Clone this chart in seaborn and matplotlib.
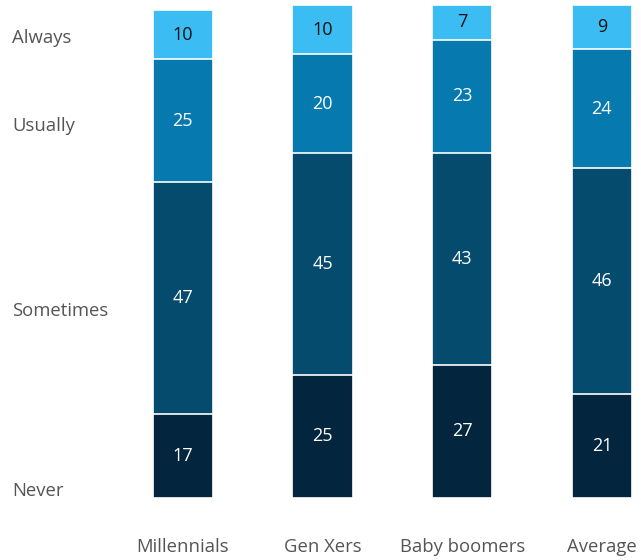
import numpy as np
import pandas as pd
import matplotlib
matplotlib.use("Agg")
import matplotlib.pyplot as plt
import seaborn as sns

# data
groups = ["Millennials", "Gen Xers", "Baby boomers", "Average"]
levels = ["Never", "Sometimes", "Usually", "Always"]  # bottom -> top
never = [17, 25, 27, 21]
sometimes = [47, 45, 43, 46]
usually = [25, 20, 23, 24]
always = [10, 10, 7, 9]

colors = {"Never": "#03253D", "Sometimes": "#054B6E",
          "Usually": "#0679AF", "Always": "#3BBCF2"}
text_colors = {"Never": "white", "Sometimes": "white",
               "Usually": "white", "Always": "#111111"}
# vertical placement of the left-hand row labels (data units)
level_label_y = {"Always": 93.4, "Usually": 75.4, "Sometimes": 37.9, "Never": 1.4}

sns.set_theme(style="white")
plt.rcParams["font.family"] = ["Open Sans", "DejaVu Sans"]

df = pd.DataFrame({"group": groups, "Never": never, "Sometimes": sometimes,
                   "Usually": usually, "Always": always})
cum = df[levels].cumsum(axis=1)

fig = plt.figure(figsize=(6.41, 5.6), dpi=100)
ax = fig.add_axes([113 / 641, 62 / 560, 528 / 641, 493 / 560])

# draw cumulative bars from the top layer down so each segment shows
for lvl in reversed(levels):
    sns.barplot(x=df["group"], y=cum[lvl], color=colors[lvl], width=0.43,
                edgecolor="white", linewidth=1.2, saturation=1, ax=ax)

# segment values
for i, g in enumerate(groups):
    base = 0
    for lvl in levels:
        v = df.loc[i, lvl]
        ax.text(i, base + v / 2, str(v), ha="center", va="center",
                fontsize=13, color=text_colors[lvl])
        base += v

# row labels on the left
for lvl in levels:
    fig.text(12 / 641, (62 + level_label_y[lvl] * 4.93) / 560, lvl,
             ha="left", va="center", fontsize=13.3, color="#555555")

ax.set_xlim(-0.5, 3.28)
ax.set_ylim(0, 100)
ax.set_xlabel("")
ax.set_ylabel("")
ax.set_yticks([])
ax.tick_params(axis="x", length=0, pad=29, labelsize=13.3, labelcolor="#555555")
sns.despine(ax=ax, left=True, bottom=True)

fig.savefig("out.png", dpi=100)
